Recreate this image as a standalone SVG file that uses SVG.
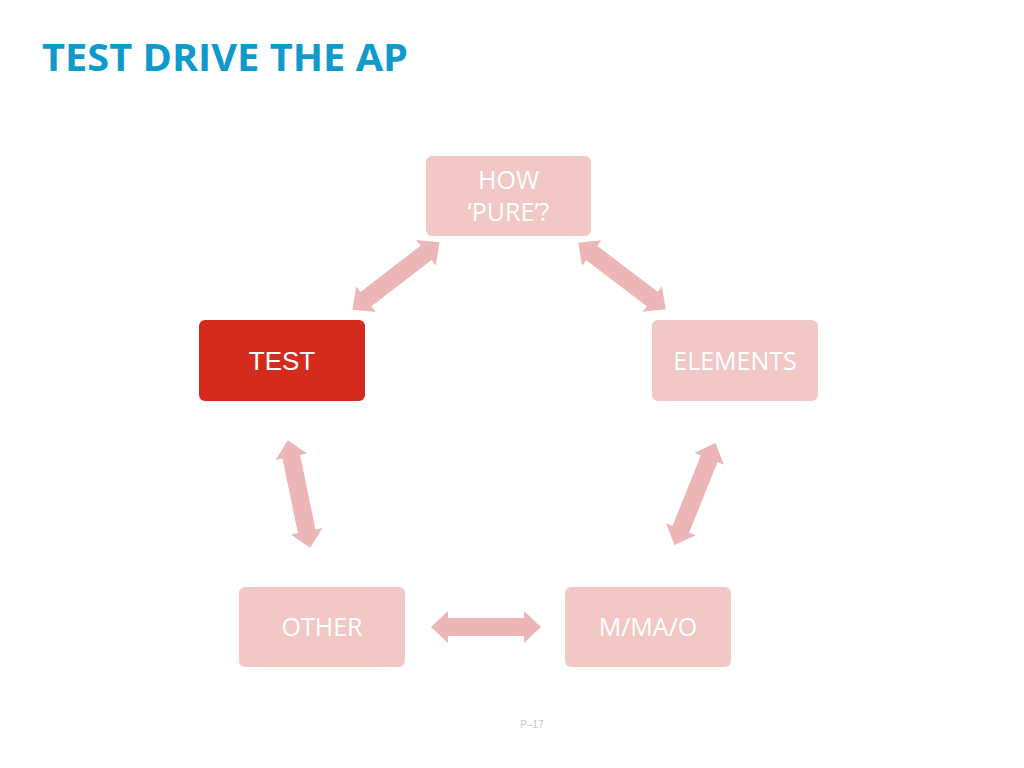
<svg xmlns="http://www.w3.org/2000/svg" width="1024" height="768" viewBox="0 0 1024 768">
<style>
.n{fill:#f2c8c6}
.t{fill:#fff;font-family:"Open Sans","Liberation Sans",sans-serif;font-size:25px;text-anchor:middle}
.a{fill:#ebb6b5}
</style>
<defs>
<path id="da" d="M-55 0 L-38 -16 L-38 -9 L38 -9 L38 -16 L55 0 L38 16 L38 9 L-38 9 L-38 16 Z"/>
</defs>
<rect width="1024" height="768" fill="#fff"/>
<text x="42" y="71" font-family="'Open Sans','Liberation Sans',sans-serif" font-weight="bold" font-size="38" fill="#0e9acb" textLength="366" lengthAdjust="spacingAndGlyphs">TEST DRIVE THE AP</text>
<g id="connectors">
<use href="#da" class="a" fill="#e6aeae" transform="translate(396,276) rotate(-37.7)"/>
<use href="#da" class="a" transform="translate(622,276) rotate(37.3)"/>
<use href="#da" class="a" transform="translate(695,494) rotate(111.9)"/>
<use href="#da" class="a" transform="translate(299,494) rotate(78.3)"/>
<use href="#da" class="a" fill="#e3a9a9" transform="translate(486,627)"/>
</g>
<g id="how"><rect class="n" x="426" y="156" width="165" height="80" rx="6"/><text class="t" x="508.5" y="189">HOW</text><text class="t" x="508.5" y="221">‘PURE’?</text></g>
<g id="test"><rect x="199" y="320" width="166" height="81" rx="6" fill="#d52b1e"/><text class="t" x="282" y="370" style="font-family:'Liberation Sans',Arial,sans-serif;font-size:26px">TEST</text></g>
<g id="elements"><rect class="n" x="652" y="320" width="166" height="81" rx="6"/><text class="t" x="735" y="370">ELEMENTS</text></g>
<g id="other"><rect class="n" x="239" y="587" width="166" height="80" rx="6"/><text class="t" x="322" y="636">OTHER</text></g>
<g id="mmao"><rect class="n" x="565" y="587" width="166" height="80" rx="6"/><text class="t" x="648" y="636">M/MA/O</text></g>
<text x="532" y="728" font-family="'Liberation Sans',sans-serif" font-size="10" fill="#c8c8c8" text-anchor="middle">P–17</text>
</svg>
